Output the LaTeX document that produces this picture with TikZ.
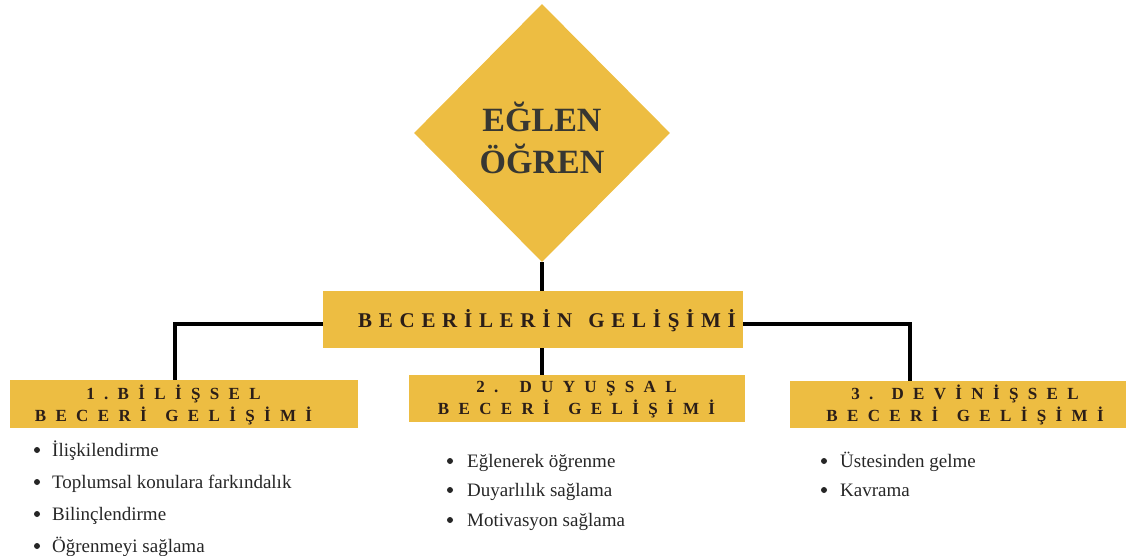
\documentclass[tikz,border=0pt]{standalone}
\usepackage{fontspec}
\setmainfont{Liberation Serif}
\usetikzlibrary{shapes.geometric}
\newfontfamily\spacedmain[LetterSpace=32]{Liberation Serif}
\newfontfamily\spacedbox[LetterSpace=55]{Liberation Serif}
\definecolor{gold}{RGB}{237,189,66}
\definecolor{ink}{RGB}{43,30,24}
\definecolor{dia}{RGB}{55,55,50}
\tikzset{
  goldbox/.style={fill=gold, draw=none, inner sep=0pt},
  boxtext/.style={inner sep=0pt, align=center, text=ink,
                  font=\spacedbox\bfseries\fontsize{17}{21.5}\selectfont},
  link/.style={line width=3.6pt, black},
  item/.style={anchor=base west, inner sep=0pt, font=\fontsize{19}{22}\selectfont, text=black!85},
  dot/.style={circle, fill=black!85, inner sep=0pt, minimum size=6pt}
}
\begin{document}
\begin{tikzpicture}[x=1pt,y=-1pt]
\useasboundingbox (0,0) rectangle (1126,555);

% central diamond
\node[diamond, fill=gold, aspect=1, minimum width=256pt, minimum height=258pt, inner sep=0pt] (d) at (542,133) {};
\node[text=dia, align=center, font=\bfseries\fontsize{34}{42}\selectfont] (title) at (542,138)
      {EĞLEN\\ÖĞREN};

% main bar
\node[goldbox, minimum width=420pt, minimum height=57pt] (main) at (533,319.5) {};
\node[inner sep=0pt, text=ink, font=\spacedmain\bfseries\fontsize{21}{22}\selectfont] (maintext) at (547,321)
      {BECERİLERİN\hspace{4pt} GELİŞİMİ};

% three skill boxes
\node[goldbox, minimum width=348pt, minimum height=48pt] (b1) at (184,404) {};
\node[goldbox, minimum width=336pt, minimum height=47pt] (b2) at (577,398.5) {};
\node[goldbox, minimum width=336pt, minimum height=47pt] (b3) at (958,404.5) {};
\node[boxtext] (t1) at (173.5,405) {1.BİLİŞSEL\\BECERİ\hspace{5pt} GELİŞİMİ};
\node[boxtext] (t2) at (576.5,399.5) {2.\hspace{3pt} DUYUŞSAL\\BECERİ\hspace{5pt} GELİŞİMİ};
\node[boxtext] (t3) at (965,405) {3. DEVİNİŞSEL\\BECERİ\hspace{5pt} GELİŞİMİ};

% connectors
\draw[link] (d.south) -- (d.south |- main.north);
\draw[link] (main.west |- 0,324) -| ([xshift=-9pt]b1.north);
\draw[link] (main.east |- 0,324) -| ([xshift=-48pt]b3.north);
\draw[link] (d.south |- main.south) -- (d.south |- b2.north);

% bullet lists
\foreach \n/\y/\t in {1/456/İlişkilendirme, 2/488/Toplumsal konulara farkındalık,
                      3/520/Bilinçlendirme, 4/552/Öğrenmeyi sağlama}{
  \node[dot] (p1\n) at (37,\y-6) {};
  \node[item] (l1\n) at (52,\y) {\t};
}
\foreach \n/\y/\t in {1/467/Eğlenerek öğrenme, 2/496/Duyarlılık sağlama, 3/526/Motivasyon sağlama}{
  \node[dot] (p2\n) at (450,\y-6) {};
  \node[item] (l2\n) at (467,\y) {\t};
}
\foreach \n/\y/\t in {1/467/Üstesinden gelme, 2/496/Kavrama}{
  \node[dot] (p3\n) at (824,\y-6) {};
  \node[item] (l3\n) at (840,\y) {\t};
}
\end{tikzpicture}
\end{document}
